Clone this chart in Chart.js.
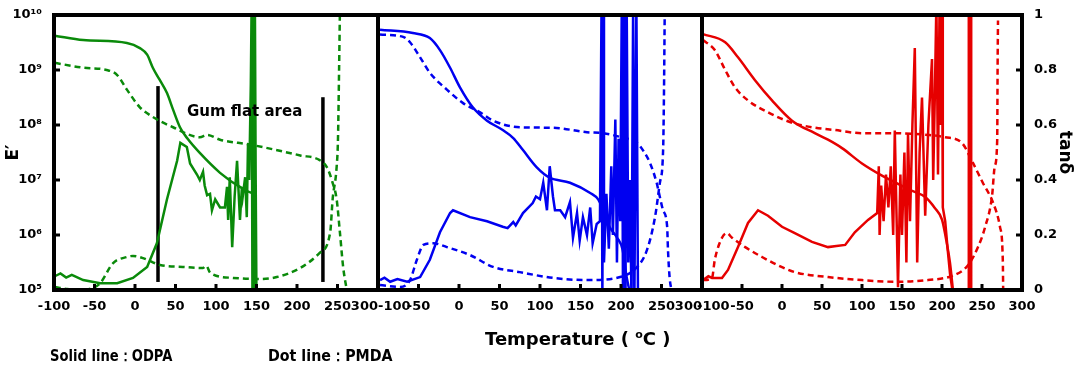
<!DOCTYPE html>
<html>
<head>
<meta charset="utf-8">
<script src="https://cdn.jsdelivr.net/npm/chart.js@4.4.1/dist/chart.umd.min.js"></script>
<style>
  body { margin: 0; background: #fff; width: 1075px; height: 369px; overflow: hidden; position: relative;
         font-family: "DejaVu Sans", Verdana, sans-serif; font-weight: bold; color: #000; }
  canvas { position: absolute; left: 0; top: 0; }
  .lbl { position: absolute; white-space: nowrap; line-height: 1; transform-origin: left center; }
</style>
</head>
<body>
<canvas id="p1" width="1075" height="369"></canvas>
<canvas id="p2" width="1075" height="369"></canvas>
<canvas id="p3" width="1075" height="369"></canvas>

<div class="lbl" style="left:187px; top:104px; font-size:15px;">Gum flat area</div>
<div class="lbl" style="left:485px; top:329px; font-size:18px;">Temperature ( <sup style="font-size:11px;">o</sup>C )</div>
<div class="lbl" style="left:50px; top:348px; font-size:16px; transform:scaleX(0.82);">Solid line：ODPA</div>
<div class="lbl" style="left:268px; top:348px; font-size:16px; transform:scaleX(0.89);">Dot line：PMDA</div>

<script>
"use strict";

// ── Data: [temperature °C, value] — E' in Pa, tanδ dimensionless ─────
// Panel 1 (green)
const odpaE1 = [[-99,4.2e9],[-64,3.5e9],[-10,3.1e9],[6,2.5e9],[15,1.9e9],[22,1.1e9],[30,6.8e8],[39.5,3.8e8],
  [47,1.9e8],[55.5,9.1e7],[65,5.6e7],[80,3.1e7],[105,1.35e7],[130,7.4e6],[146,5.8e6],[147,1.2e10],[148,8e4]];
const pmdaE1 = [[-99,1.35e9],[-64,1.1e9],[-35,1.0e9],[-22,8.1e8],[-10,4.4e8],[6,2.1e8],[22,1.4e8],[47,9.1e7],
  [80,6.0e7],[89,6.6e7],[105,5.4e7],[142,4.4e7],[204,2.8e7],[228,2.3e7],[237,1.7e7],[244,8.9e6],[249,4.4e6],
  [253,1.1e6],[257,2.6e5],[262,9e4]];
const odpaT1 = [[-99,0.05],[-92,0.06],[-85,0.045],[-78,0.055],[-64,0.036],[-43,0.025],[-22,0.025],[-2.5,0.044],
  [15,0.084],[27,0.17],[39.5,0.33],[52,0.47],[56,0.535],[64,0.52],[68,0.46],[76.5,0.42],[80,0.40],[84,0.43],
  [86,0.38],[89,0.345],[92.6,0.35],[95,0.29],[99,0.33],[105,0.30],[111,0.30],[113.6,0.375],[115,0.255],
  [117,0.41],[120,0.156],[123,0.34],[126,0.47],[129.6,0.255],[132,0.375],[133,0.34],[136,0.41],[138,0.265],
  [139.5,0.53],[141,0.40],[143,0.75],[144,1.05],[145,-0.05],[146,1.05],[147,-0.05],[148,1.05],[149,0.4],[150,-0.05]];
const pmdaT1 = [[-99,0.011],[-85,0.004],[-70,0.0],[-55,0.005],[-43,0.025],[-27,0.098],[-10,0.12],[-2.5,0.124],
  [10,0.116],[31,0.091],[59,0.084],[84,0.08],[88,0.088],[93,0.062],[121,0.044],[151,0.04],[175,0.047],
  [204,0.08],[228,0.135],[241,0.21],[244,0.33],[249,0.45],[250.6,0.55],[252,0.81],[253,1.02]];
// black marker lines bounding the gum flat area
const gumLeft  = [[28.4,1.4e5],[28.4,5.1e8]];
const gumRight = [[232,1.4e5],[232,3.2e8]];

// Panel 2 (blue)
const odpaE2 = [[-97.5,5.4e9],[-57,4.7e9],[-36,3.8e9],[-23.5,2.3e9],[-11,1.1e9],[1,4.9e8],[17,2.1e8],[34.6,1.2e8],
  [54,8.1e7],[67,5.8e7],[79,3.5e7],[96,1.7e7],[112,1.1e7],[137,8.9e6],[162,5.8e6],[172,4.4e6],[178,2.8e6],
  [186,1.4e6],[195,9e5],[202,5.4e5],[207,1.7e5],[211,9e4]];
const pmdaE2 = [[-97.5,4.4e9],[-69,4.0e9],[-60.5,3.2e9],[-48,1.7e9],[-36,8.9e8],[-15,4.4e8],[5,2.5e8],[26,1.7e8],
  [42,1.2e8],[75,9.1e7],[116,8.9e7],[158,7.4e7],[178,7.1e7],[200,6.0e7],[220,4.7e7],[227,3.5e7],[236,2.0e7],
  [244,8.9e6],[248,4.9e6],[252,2.8e6],[257,1.4e6],[258,5.4e5],[260,1.7e5],[263,9e4]];
const odpaT2 = [[-97.5,0.036],[-92,0.045],[-85,0.03],[-76,0.04],[-64,0.03],[-48,0.047],[-36,0.11],[-23.5,0.21],
  [-11,0.28],[-7.4,0.29],[13.6,0.265],[34.6,0.25],[54,0.23],[60,0.225],[67,0.247],[70,0.235],[79,0.28],
  [91,0.316],[95,0.34],[100,0.33],[104,0.39],[108.6,0.29],[112,0.45],[116,0.34],[118.5,0.29],[125,0.29],
  [131,0.265],[137,0.32],[140.7,0.19],[145.7,0.28],[149,0.18],[153,0.265],[158,0.2],[162,0.30],[165,0.17],
  [170,0.24],[174,0.25],[176,1.05],[177,-0.05],[178,1.05],[179,0.1],[182,0.35],[185,0.15],[188,0.45],[190,0.2],
  [193,0.62],[195,0.1],[197,0.55],[199,0.25],[201,1.05],[202.5,-0.05],[204,1.05],[205.5,-0.05],[207,1.05],
  [209,0.1],[211,0.4],[213,-0.05],[215,1.05],[216.5,-0.05],[219,1.05],[221,-0.05]];
const pmdaT2 = [[-97.5,0.018],[-73,0.011],[-60.5,0.036],[-52,0.11],[-44,0.164],[-32,0.17],[-15,0.156],
  [13.6,0.127],[42,0.084],[75,0.065],[116,0.044],[158,0.036],[199,0.047],[220,0.084],[232,0.145],[242,0.265],
  [248,0.39],[252,0.51],[253,0.7],[254,1.02]];

// Panel 3 (red)
const odpaE3 = [[-98.75,4.5e9],[-71,3.2e9],[-55,1.7e9],[-34,6.6e8],[-12.5,2.8e8],[12.5,1.2e8],[41,7.1e7],
  [57.5,5.4e7],[75,3.8e7],[100,2.0e7],[125,1.2e7],[141,9.1e6],[160,6.6e6],[179,4.9e6],[191,3.1e6],
  [200,1.9e6],[206,7.1e5],[210,3.1e5],[214,9e4]];
const pmdaE3 = [[-98.75,3.5e9],[-84,2.3e9],[-71,1.0e9],[-59,4.9e8],[-42.5,2.8e8],[-17.5,1.7e8],[12.5,1.1e8],
  [37.5,9.1e7],[66,8.1e7],[100,7.1e7],[141,7.1e7],[182.5,6.6e7],[204,6.0e7],[225,4.7e7],[239,2.0e7],
  [251,8.9e6],[264,3.8e6],[272.5,1.4e6],[276,3.5e5],[276.5,9e4]];
const odpaT3 = [[-98.75,0.036],[-92,0.05],[-87.5,0.044],[-75,0.044],[-67.5,0.073],[-55,0.156],[-42.5,0.244],
  [-30,0.29],[-17.5,0.27],[0,0.23],[16,0.207],[37.5,0.175],[57.5,0.156],[68,0.16],[79,0.164],[91,0.21],
  [107.5,0.255],[119,0.28],[121,0.45],[122,0.2],[124,0.38],[127,0.25],[130,0.42],[133,0.3],[136,0.45],
  [139,0.2],[141,0.58],[145,0.01],[148,0.42],[150,0.2],[153,0.5],[155.5,0.1],[157.5,0.57],[160,0.25],
  [163,0.6],[166,0.88],[169,0.1],[172,0.5],[175,0.70],[179,0.27],[183,0.6],[187.5,0.84],[189,0.4],[191,0.7],
  [193,1.05],[195,0.42],[197,1.05],[198.5,0.6],[200,1.05],[201,0.3],[204,0.25],[207,0.15],[210,0.06],
  [214,-0.02],[233.5,-0.05],[233.5,1.05],[234.5,1.05],[234.5,-0.05],[235.5,-0.05],[235.5,1.05],[236.5,1.05],[236.5,-0.05]];
const pmdaT3 = [[-98.75,0.036],[-87.5,0.044],[-84,0.11],[-75,0.19],[-69,0.207],[-62.5,0.19],[-46,0.156],
  [-25,0.12],[-5,0.09],[16,0.065],[57.5,0.047],[100,0.036],[141,0.03],[182.5,0.036],[216,0.055],[232.5,0.09],
  [245,0.156],[254,0.23],[262.5,0.34],[266,0.45],[269,0.545],[269.5,0.81],[270,0.98]];

// Axis ticks
const tempTicks = [-100, -50, 0, 50, 100, 150, 200, 250, 300];
const modTicks  = [1e5, 1e6, 1e7, 1e8, 1e9, 1e10];
const tanTicks  = [0, 0.2, 0.4, 0.6, 0.8, 1];

// ── Helpers ───────────────────────────────────────────────────────────
const FONT = { family: '"DejaVu Sans", Verdana, sans-serif', weight: 'bold', size: 13 };
const SUP = { '0':'⁰','1':'¹','2':'²','3':'³','4':'⁴','5':'⁵','6':'⁶','7':'⁷','8':'⁸','9':'⁹' };
const xy = a => a.map(([x, y]) => ({ x, y }));

// smooth = monotone cubic, otherwise straight segments (noisy traces)
function line(data, color, axis, dashed, smooth) {
  return {
    data: xy(data), yAxisID: axis, borderColor: color, borderWidth: 2.5,
    borderDash: dashed ? [6, 4] : [], pointRadius: 0, fill: false,
    tension: smooth ? 0.4 : 0, cubicInterpolationMode: smooth ? 'monotone' : 'default',
  };
}

// frame + inward tick marks, drawn on top of the data
const frame = {
  id: 'frame',
  afterDraw(chart) {
    const { ctx, chartArea: a, scales } = chart;
    ctx.save();
    ctx.strokeStyle = '#000';
    ctx.lineWidth = 3;
    const x = scales.x;
    x.ticks.forEach(t => {
      const px = x.getPixelForValue(t.value);
      if (px < a.left + 4 || px > a.right - 4) return;
      ctx.beginPath(); ctx.moveTo(px, a.bottom); ctx.lineTo(px, a.bottom - 6); ctx.stroke();
    });
    if (scales.yE.options.display) scales.yE.ticks.forEach(t => {
      const py = scales.yE.getPixelForValue(t.value);
      if (py < a.top + 4 || py > a.bottom - 4) return;
      ctx.beginPath(); ctx.moveTo(a.left, py); ctx.lineTo(a.left + 6, py); ctx.stroke();
    });
    if (scales.yT.options.display) scales.yT.ticks.forEach(t => {
      const py = scales.yT.getPixelForValue(t.value);
      if (py < a.top + 4 || py > a.bottom - 4) return;
      ctx.beginPath(); ctx.moveTo(a.right, py); ctx.lineTo(a.right - 6, py); ctx.stroke();
    });
    ctx.lineWidth = 4;
    ctx.strokeRect(a.left, a.top, a.right - a.left, a.bottom - a.top);
    ctx.restore();
  }
};

function panel(id, pad, datasets, showLeft, showRight, xAlign, xLabel) {
  return new Chart(document.getElementById(id), {
    type: 'line',
    data: { datasets },
    options: {
      responsive: false,
      animation: false,
      layout: { padding: { left: pad[0], right: pad[1], top: 15, bottom: 57 } },
      plugins: { legend: { display: false }, tooltip: { enabled: false } },
      scales: {
        x: {
          type: 'linear', min: -100, max: 300,
          afterBuildTicks: s => { s.ticks = tempTicks.map(v => ({ value: v })); },
          afterFit: s => { s.height = 22; },
          grid: { display: false }, border: { display: false },
          ticks: { color: '#000', font: FONT, padding: 1, maxRotation: 0, autoSkip: false,
                   align: xAlign, callback: xLabel },
        },
        yE: {
          type: 'logarithmic', position: 'left', min: 1e5, max: 1e10, display: showLeft,
          afterBuildTicks: s => { s.ticks = modTicks.map(v => ({ value: v })); },
          afterFit: s => { s.width = showLeft ? 54 : 0; },
          grid: { display: false }, border: { display: false },
          ticks: { color: '#000', font: FONT, padding: 4,
                   callback: v => '10' + String(Math.round(Math.log10(v))).split('').map(c => SUP[c]).join('') },
          title: { display: true, text: 'E′', color: '#000', font: { ...FONT, size: 17 }, padding: 3 },
        },
        yT: {
          type: 'linear', position: 'right', min: 0, max: 1, display: showRight,
          afterBuildTicks: s => { s.ticks = tanTicks.map(v => ({ value: v })); },
          afterFit: s => { s.width = showRight ? 53 : 0; },
          grid: { display: false }, border: { display: false },
          ticks: { color: '#000', font: FONT, padding: 4, callback: v => String(+v.toFixed(1)) },
          title: { display: true, text: 'tanδ', color: '#000', font: { ...FONT, size: 17 }, padding: 0 },
        },
      },
    },
    plugins: [frame],
  });
}

const GREEN = '#0a8a0a', BLUE = '#0000f0', RED = '#e60000';

panel('p1', [0, 697], [
  line(odpaE1, GREEN, 'yE', false, true),
  line(pmdaE1, GREEN, 'yE', true, true),
  line(odpaT1, GREEN, 'yT', false, false),
  line(pmdaT1, GREEN, 'yT', true, true),
  { ...line(gumLeft, '#000', 'yE', false, false), borderWidth: 3.5 },
  { ...line(gumRight, '#000', 'yE', false, false), borderWidth: 3.5 },
], true, false, 'center', v => v === 300 ? '300      ' : String(v));

panel('p2', [378, 373], [
  line(odpaE2, BLUE, 'yE', false, true),
  line(pmdaE2, BLUE, 'yE', true, true),
  line(odpaT2, BLUE, 'yT', false, false),
  line(pmdaT2, BLUE, 'yT', true, true),
], false, false, 'inner', v => String(v));

panel('p3', [702, 0], [
  line(odpaE3, RED, 'yE', false, true),
  line(pmdaE3, RED, 'yE', true, true),
  line(odpaT3, RED, 'yT', false, false),
  line(pmdaT3, RED, 'yT', true, true),
], false, true, 'center', v => v === -100 ? '     -100' : String(v));
</script>
</body>
</html>
